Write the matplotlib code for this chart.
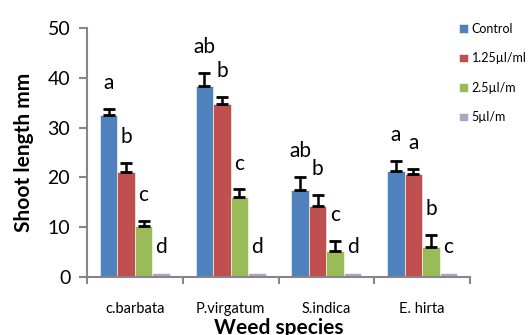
import numpy as np
import matplotlib
matplotlib.use("Agg")
import matplotlib.pyplot as plt

plt.rcParams['font.family'] = ['Lato', 'DejaVu Sans']

# data
species = ['c.barbata', 'P.virgatum', 'S.indica', 'E. hirta']
series = ['Control', '1.25µl/ml', '2.5µl/m', '5µl/m']
colors = ['#4F81BD', '#C0504D', '#9BBB59', '#B3A2C7']
means = [
    [32.5, 38.4, 17.5, 21.3],   # Control
    [21.1, 34.7, 14.2, 20.8],   # 1.25
    [10.2, 16.1, 5.2, 6.1],     # 2.5
    [0.8, 0.8, 0.8, 0.8],       # 5
]
errs = [
    [1.2, 2.6, 2.6, 2.0],
    [1.8, 1.5, 2.3, 1.0],
    [1.1, 1.5, 2.1, 2.3],
    [0, 0, 0, 0],
]
letters = [
    ['a', 'ab', 'ab', 'a'],
    ['b', 'b', 'b', 'a'],
    ['c', 'c', 'c', 'b'],
    ['d', 'd', 'd', 'c'],
]

fig = plt.figure(figsize=(5.3, 3.35), dpi=100)
ax = fig.add_axes([0.164, 0.173, 0.723, 0.743])

x = np.arange(len(species)) + 0.5
w = 0.1825
for i, name in enumerate(series):
    xs = x + (i - 1.5) * w
    m = np.array(means[i])
    e = np.array(errs[i])
    ax.bar(xs, m, w, color=colors[i], label=name, edgecolor='white', linewidth=0.4, zorder=2)
    if e.sum() > 0:
        ax.errorbar(xs, m, yerr=[np.zeros_like(e), e], fmt='none', ecolor='black',
                    elinewidth=1.8, capsize=4, capthick=2, zorder=3)
    for j in range(len(species)):
        ax.text(xs[j], m[j] + e[j] + 4, letters[i][j], ha='center', va='baseline',
                fontsize=15, color='black')

ax.set_xlim(0, 4)
ax.set_ylim(0, 50)
ax.set_yticks(range(0, 51, 10))
ax.set_xticks(range(0, 5))
ax.set_xticklabels([])
ax.set_xticks(x, minor=True)
ax.set_xticklabels(species, minor=True, fontsize=10.5)
ax.tick_params(axis='x', which='minor', length=0, pad=18)
ax.tick_params(axis='x', which='major', length=5, width=1.5, color='#868686', direction='out')
ax.tick_params(axis='y', length=6, width=1.5, color='#868686', labelsize=14, pad=6)

for s in ['top', 'right']:
    ax.spines[s].set_visible(False)
for s in ['left', 'bottom']:
    ax.spines[s].set_color('#868686')
    ax.spines[s].set_linewidth(1.5)

ax.set_ylabel('Shoot length mm', fontsize=15, fontweight='bold', labelpad=10)
fig.text(0.525, -0.01, 'Weed species', ha='center', va='bottom', fontsize=15, fontweight='bold')

fig.legend(loc='upper left', bbox_to_anchor=(0.845, 0.965), frameon=False, fontsize=9,
           handlelength=0.7, handleheight=0.7, handletextpad=0.3, labelspacing=1.4)

fig.savefig('out.png', dpi=100)
